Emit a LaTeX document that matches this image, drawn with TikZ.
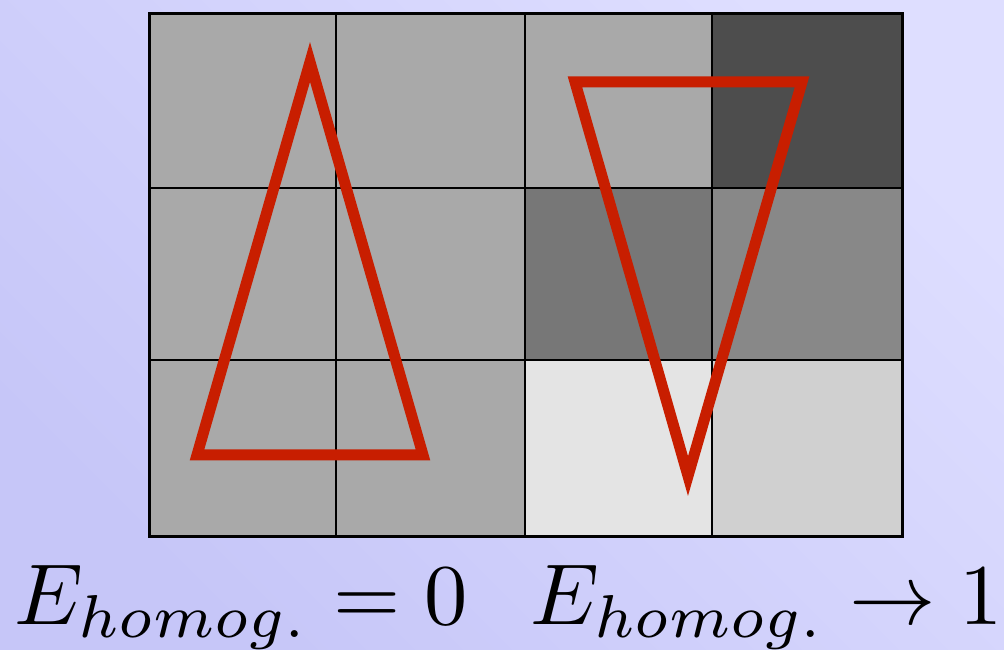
\documentclass[tikz,border=0pt]{standalone}
\usepackage{amsmath}
\usepackage{amssymb}
\usepackage{tikz}

\definecolor{bgLight}{HTML}{DEDEFF}
\definecolor{bgDark}{HTML}{C6C6F8}
\definecolor{grayA}{HTML}{A9A9A9}
\definecolor{grayB}{HTML}{4D4D4D}
\definecolor{grayC}{HTML}{777777}
\definecolor{grayD}{HTML}{888888}
\definecolor{grayE}{HTML}{E4E4E4}
\definecolor{grayF}{HTML}{D0D0D0}
\definecolor{triRed}{HTML}{C81E00}

\begin{document}
\begin{tikzpicture}[x=0.1mm,y=-0.1mm]
		\tikzstyle{every node}+=[inner sep=0pt]
		\tikzstyle{gridline}=[draw=black, line width=0.2mm]
		\tikzstyle{tri}=[draw=triRed, line width=1.1mm, miter limit=10]
		\tikzstyle{energy}=[anchor=base west, scale=2.46]
		\useasboundingbox (0,0) rectangle (1004,650);
		\shade[shading=axis, top color=bgLight, bottom color=bgDark, shading angle=-45] (0,0) rectangle (1004,650);
		% cells
		\foreach \xa/\xb/\ya/\yb/\col in {149/336/14/188/grayA, 336/525/14/188/grayA, 525/712/14/188/grayA, 712/902/14/188/grayB,
			149/336/188/360/grayA, 336/525/188/360/grayA, 525/712/188/360/grayC, 712/902/188/360/grayD,
			149/336/360/537/grayA, 336/525/360/537/grayA, 525/712/360/537/grayE, 712/902/360/537/grayF}
			\fill[\col] (\xa,\ya) rectangle (\xb,\yb);
		\foreach \x in {336,525,712}
			\draw[gridline] (\x,14) -- (\x,537);
		\foreach \y in {188,360}
			\draw[gridline] (149,\y) -- (902,\y);
		\draw[gridline, line width=0.3mm] (149,14) rectangle (902,537);
		% triangles
		\draw[tri] (310,62) -- (423,455) -- (197,455) -- cycle;
		\draw[tri] (575,82) -- (802,82) -- (688,476) -- cycle;
		% labels
		\node[energy] (eZero) at (13,625) {$E_{homog.} = 0$};
		\node[energy] (eOne) at (529,625) {$E_{homog.} \rightarrow 1$};
	\end{tikzpicture}
\end{document}
